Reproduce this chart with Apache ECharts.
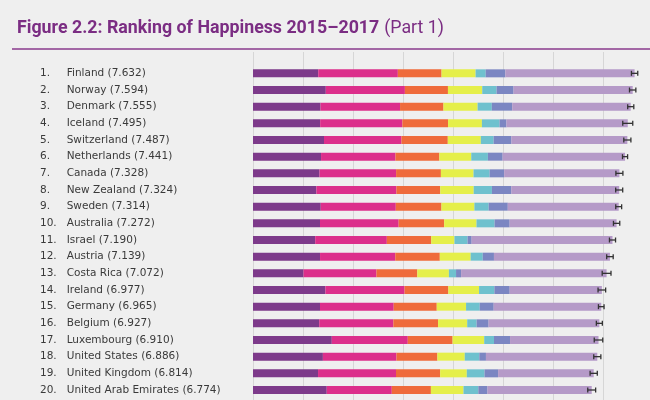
<!DOCTYPE html>
<html>
<head>
<meta charset="utf-8">
<script src="https://cdn.jsdelivr.net/npm/echarts@6/dist/echarts.min.js"></script>
<style>
html,body{margin:0;padding:0;background:#efefef;}
#c{width:650px;height:400px;}
</style>
</head>
<body>
<div id="c"></div>
<script>
const ranks = ['1.','2.','3.','4.','5.','6.','7.','8.','9.','10.','11.','12.','13.','14.','15.','16.','17.','18.','19.','20.'];
const countries = ['Finland','Norway','Denmark','Iceland','Switzerland','Netherlands','Canada','New Zealand','Sweden','Australia','Israel','Austria','Costa Rica','Ireland','Germany','Belgium','Luxembourg','United States','United Kingdom','United Arab Emirates'];
const scores = ['7.632','7.594','7.555','7.495','7.487','7.441','7.328','7.324','7.314','7.272','7.190','7.139','7.072','6.977','6.965','6.927','6.910','6.886','6.814','6.774'];
const gdp        = [1.305,1.456,1.351,1.343,1.420,1.361,1.330,1.268,1.355,1.340,1.244,1.341,1.010,1.448,1.340,1.324,1.576,1.398,1.301,1.475];
const social     = [1.592,1.582,1.590,1.644,1.549,1.488,1.532,1.601,1.501,1.573,1.433,1.504,1.459,1.583,1.474,1.483,1.520,1.471,1.559,1.301];
const health     = [0.874,0.861,0.868,0.914,0.927,0.878,0.896,0.876,0.913,0.910,0.888,0.891,0.817,0.876,0.861,0.894,0.896,0.819,0.883,0.782];
const freedom    = [0.681,0.686,0.683,0.677,0.660,0.638,0.653,0.669,0.659,0.647,0.464,0.617,0.632,0.614,0.586,0.583,0.632,0.547,0.533,0.652];
const generosity = [0.202,0.286,0.284,0.353,0.256,0.333,0.321,0.365,0.285,0.361,0.262,0.242,0.143,0.307,0.273,0.188,0.196,0.291,0.354,0.297];
const corruption = [0.393,0.340,0.408,0.138,0.357,0.295,0.291,0.389,0.383,0.302,0.082,0.224,0.101,0.306,0.280,0.240,0.321,0.133,0.272,0.183];
const dystopia   = [2.585,2.383,2.370,2.426,2.318,2.448,2.305,2.156,2.218,2.139,2.817,2.320,2.910,1.843,2.151,2.215,1.769,2.227,1.912,2.084];
const ciLow      = [7.569,7.530,7.494,7.395,7.416,7.390,7.258,7.254,7.255,7.209,7.129,7.074,6.984,6.901,6.909,6.867,6.825,6.815,6.742,6.695];
const ciHigh     = [7.695,7.657,7.616,7.595,7.558,7.492,7.398,7.394,7.373,7.335,7.251,7.204,7.160,7.053,7.021,6.987,6.995,6.957,6.886,6.853];

const segNames  = ['GDP per capita','Social support','Healthy life expectancy','Freedom','Generosity','Corruption','Dystopia + residual'];
const segData   = [gdp, social, health, freedom, generosity, corruption, dystopia];
const segColors = ['#7d3a8a','#dc2f8b','#ef6b3b','#e5ef4a','#6fc1ce','#7b86c2','#b59ac8'];

const chart = echarts.init(document.getElementById('c'));
const idx = countries.map((_, i) => i);

const barSeries = segNames.map((n, k) => ({
  name: n, type: 'bar', stack: 'total', xAxisIndex: 1, yAxisIndex: 1,
  barWidth: 8, silent: true,
  itemStyle: { color: segColors[k] },
  data: segData[k]
}));

const errSeries = {
  type: 'custom', xAxisIndex: 1, yAxisIndex: 1, silent: true,
  data: idx.map(i => [i, ciLow[i], ciHigh[i]]),
  encode: { y: 0, x: [1, 2] },
  renderItem: function (params, api) {
    const i = api.value(0);
    const a = api.coord([api.value(1), i]);
    const b = api.coord([api.value(2), i]);
    const h = 2.5;
    const st = { stroke: '#333', lineWidth: 1.3 };
    return { type: 'group', children: [
      { type: 'line', shape: { x1: a[0], y1: a[1], x2: b[0], y2: b[1] }, style: st },
      { type: 'line', shape: { x1: a[0], y1: a[1]-h, x2: a[0], y2: a[1]+h }, style: st },
      { type: 'line', shape: { x1: b[0], y1: b[1]-h, x2: b[0], y2: b[1]+h }, style: st }
    ]};
  },
  z: 5
};

chart.setOption({
  backgroundColor: '#efefef',
  animation: false,
  title: {
    left: 12, top: 15,
    text: '{b|Figure 2.2: Ranking of Happiness 2015–2017} {n|(Part 1)}',
    textStyle: { rich: {
      b: { fontFamily: 'Roboto', fontWeight: 'bold', fontSize: 17.8, color: '#7b2d83' },
      n: { fontFamily: 'Roboto', fontWeight: 'normal', fontSize: 17.8, color: '#7b2d83' }
    }}
  },
  graphic: [{
    type: 'line', shape: { x1: 12, y1: 49, x2: 650, y2: 49 },
    style: { stroke: '#8a3a8c', lineWidth: 1.6 }, z: 10
  }],
  grid: [
    { left: 253, width: 400, top: 52, height: 360, outerBoundsMode: 'none', containLabel: false },
    { left: 253, width: 400, top: 65, height: 333.33, outerBoundsMode: 'none', containLabel: false }
  ],
  xAxis: [
    { gridIndex: 0, type: 'value', min: 0, max: 8, interval: 1,
      axisLine: { show: false }, axisTick: { show: false }, axisLabel: { show: false },
      splitLine: { show: true, lineStyle: { color: '#d6d6d6', width: 1 } } },
    { gridIndex: 1, type: 'value', min: 0, max: 8, interval: 1, show: false,
      splitLine: { show: false } }
  ],
  yAxis: [
    { gridIndex: 0, type: 'value', min: 0, max: 1, show: false, splitLine: { show: false } },
    { gridIndex: 1, type: 'category', inverse: true, data: countries,
      axisLine: { show: false }, axisTick: { show: false },
      axisLabel: {
        align: 'left', margin: 213,
        formatter: (v, i) => '{r|' + ranks[i] + '}{n|' + countries[i] + ' (' + scores[i] + ')}',
        rich: {
          r: { width: 26.7, fontFamily: 'DejaVu Sans', fontSize: 10.5, color: '#3a3a3a' },
          n: { fontFamily: 'DejaVu Sans', fontSize: 10.5, color: '#3a3a3a' }
        }
      } }
  ],
  series: barSeries.concat([errSeries])
});
</script>
</body>
</html>
